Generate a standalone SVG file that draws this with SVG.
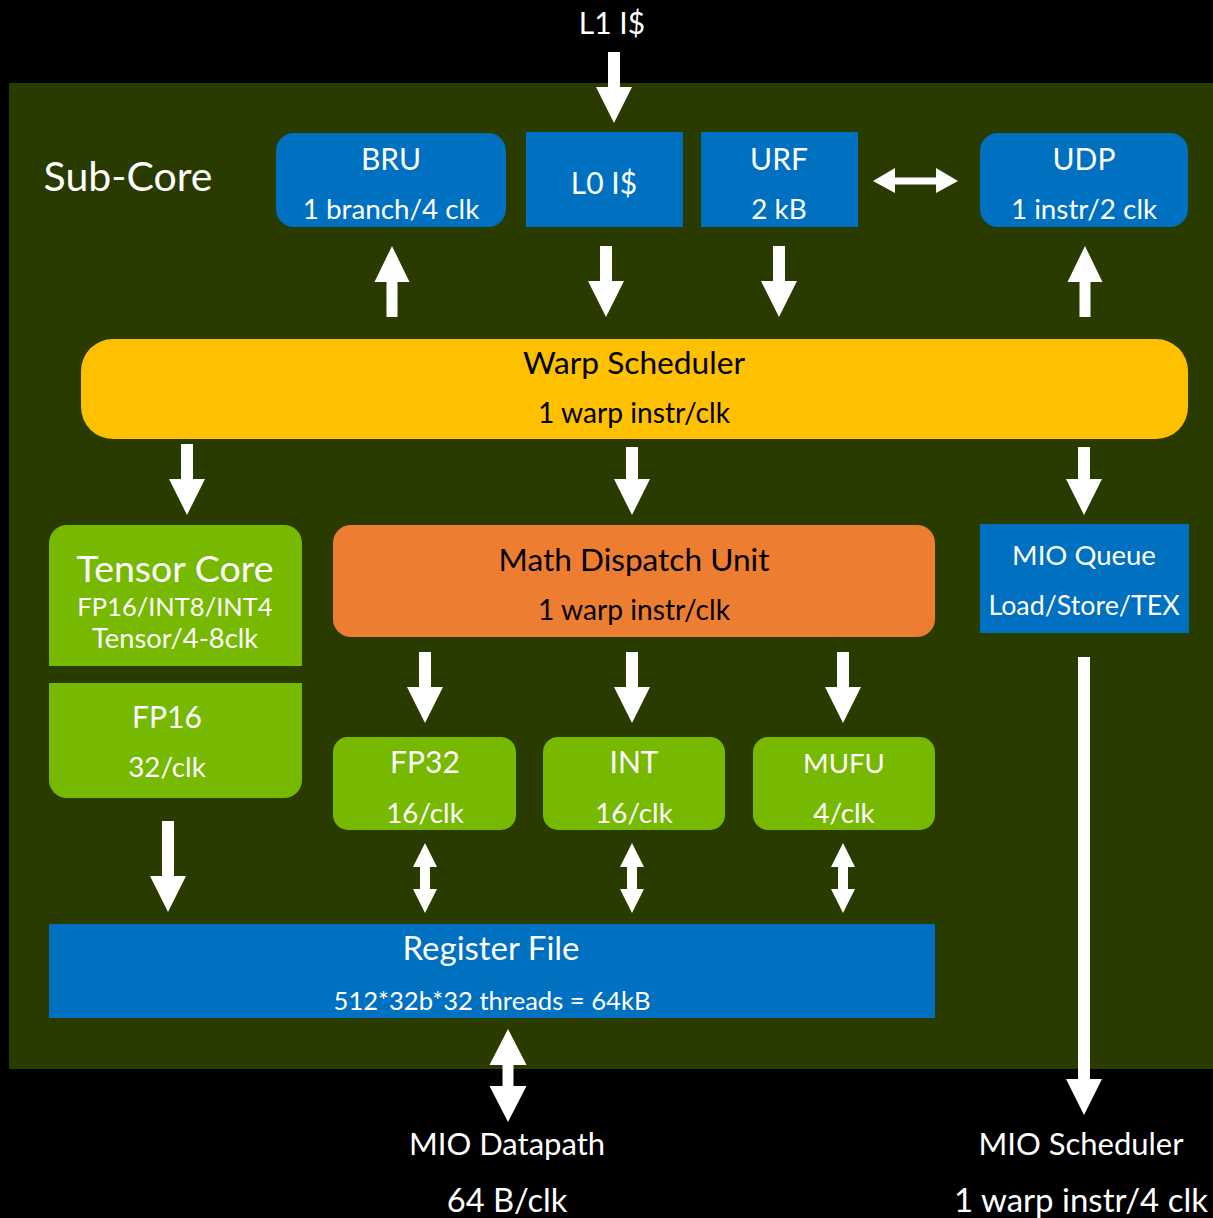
<svg xmlns="http://www.w3.org/2000/svg" width="1213" height="1218" viewBox="0 0 1213 1218">
<style>
text{font-family:Lato,"Open Sans","DejaVu Sans",sans-serif;fill:#fff;text-anchor:middle}
.big{font-size:30px}
.sm{font-size:27.8px}
.dk{fill:#000}
.blue{fill:#0070c0}
.green{fill:#76b900}
.arr{fill:#fff}
</style>
<rect x="0" y="0" width="1213" height="1218" fill="#000"/>
<rect id="subcore" x="9" y="83" width="1204" height="986" fill="#2a3b00"/>
<text x="612" y="34" class="big">L1 I$</text>
<text x="128" y="191" style="font-size:41px">Sub-Core</text>

<g id="bru"><rect x="276" y="133" width="230" height="94" rx="18" class="blue"/><text x="391" y="170" class="big">BRU</text><text x="391" y="219" class="sm">1 branch/4 clk</text></g>
<g id="l0"><rect x="526" y="132" width="157" height="95" class="blue"/><text x="604" y="194" class="big">L0 I$</text></g>
<g id="urf"><rect x="701" y="132" width="157" height="95" class="blue"/><text x="779" y="170" class="big">URF</text><text x="779" y="219" class="sm">2 kB</text></g>
<g id="udp"><rect x="980" y="133" width="208" height="94" rx="18" class="blue"/><text x="1084" y="170" class="big">UDP</text><text x="1084" y="219" class="sm">1 instr/2 clk</text></g>

<g id="warp"><rect x="81" y="339" width="1107" height="100" rx="32" fill="#ffc000"/><text x="634" y="374" class="dk" style="font-size:31.7px">Warp Scheduler</text><text x="634" y="423" class="dk" style="font-size:28.2px">1 warp instr/clk</text></g>

<g id="tensor"><path d="M49 666V543a18 18 0 0 1 18-18H284a18 18 0 0 1 18 18V666Z" class="green"/><text x="175" y="582" style="font-size:37.5px">Tensor Core</text><text x="175" y="616" style="font-size:25.5px">FP16/INT8/INT4</text><text x="175" y="648" style="font-size:27.3px">Tensor/4-8clk</text></g>
<g id="fp16"><path d="M49 683H302V780a18 18 0 0 1-18 18H67a18 18 0 0 1-18-18Z" class="green"/><text x="167" y="728" class="big">FP16</text><text x="167" y="777" class="sm">32/clk</text></g>

<g id="mdu"><rect x="333" y="525" width="602" height="112" rx="18" fill="#ed7d31"/><text x="634" y="571" class="dk" style="font-size:31.6px">Math Dispatch Unit</text><text x="634" y="620" class="dk" style="font-size:28.2px">1 warp instr/clk</text></g>
<g id="mioq"><rect x="980" y="524" width="209" height="109" class="blue"/><text x="1084" y="565" style="font-size:27.5px">MIO Queue</text><text x="1084" y="615" style="font-size:26.8px">Load/Store/TEX</text></g>

<g id="fp32"><rect x="333" y="737" width="183" height="93" rx="15" class="green"/><text x="425" y="773" class="big">FP32</text><text x="425" y="823" class="sm">16/clk</text></g>
<g id="int"><rect x="543" y="737" width="182" height="93" rx="15" class="green"/><text x="634" y="773" class="big">INT</text><text x="634" y="823" class="sm">16/clk</text></g>
<g id="mufu"><rect x="753" y="737" width="182" height="93" rx="15" class="green"/><text x="844" y="773" style="font-size:27.6px">MUFU</text><text x="844" y="823" class="sm">4/clk</text></g>

<g id="rf"><rect x="49" y="924" width="886" height="94" class="blue"/><text x="491" y="960" style="font-size:33px">Register File</text><text x="492" y="1010" style="font-size:25.6px">512*32b*32 threads = 64kB</text></g>

<g id="miodp"><text x="507" y="1155" style="font-size:31px">MIO Datapath</text><text x="507" y="1212" style="font-size:32.7px">64 B/clk</text></g>
<g id="miosch"><text x="1081" y="1155" style="font-size:31px">MIO Scheduler</text><text x="1081" y="1212" style="font-size:33px">1 warp instr/4 clk</text></g>

<g id="connectors" class="arr">
<path d="M608 52H620V87H632L614 123L596 87H608Z"/>
<path d="M873 181L895 168V177.5H936V168L958 181L936 193V184.5H895V193Z"/>
<path d="M392 246L409.5 282H397.5V317H386.5V282H374.5Z"/>
<path d="M1085 246L1102.5 282H1090.5V317H1079.5V282H1067.5Z"/>
<path d="M600 246H612V281H624L606 317L588 281H600Z"/>
<path d="M773 246H785V281H797L779 317L761 281H773Z"/>
<path d="M181 444H193V479H205L187 515L169 479H181Z"/>
<path d="M626 447H638V479H650L632 515L614 479H626Z"/>
<path d="M1078 447H1090V479H1102L1084 515L1066 479H1078Z"/>
<path d="M419 652H431V687H443L425 723L407 687H419Z"/>
<path d="M626 652H638V687H650L632 723L614 687H626Z"/>
<path d="M837 652H849V687H861L843 723L825 687H837Z"/>
<path d="M162 821H174V876H186L168 912L150 876H162Z"/>
<path d="M425 843L437 867H430V889H437L425 913L413 889H420V867H413Z"/>
<path d="M632 843L644 867H637V889H644L632 913L620 889H627V867H620Z"/>
<path d="M843 843L855 867H848V889H855L843 913L831 889H838V867H831Z"/>
<path d="M508 1029L526.5 1065H513.5V1086H526.5L508 1122L489.5 1086H502.5V1065H489.5Z"/>
<path d="M1078 657H1090V1079H1102L1084 1115L1066 1079H1078Z"/>
</g>
</svg>
